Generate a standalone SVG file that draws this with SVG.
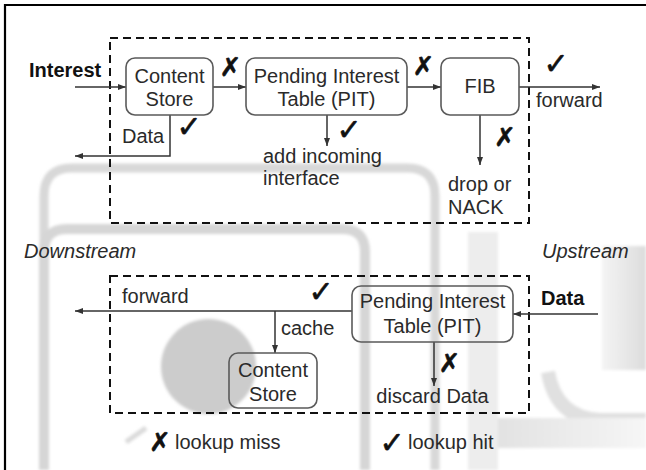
<svg xmlns="http://www.w3.org/2000/svg" width="646" height="470" viewBox="0 0 646 470">
  <defs>
    <marker id="arrow" markerUnits="userSpaceOnUse" markerWidth="9" markerHeight="7" refX="8" refY="3.5" orient="auto">
      <path d="M0,0.5 L8,3.5 L0,6.5 z" fill="#333"/>
    </marker>
    <filter id="soft" x="-10%" y="-10%" width="120%" height="120%">
      <feGaussianBlur stdDeviation="1.6"/>
    </filter>
    <linearGradient id="fadeL" x1="0" x2="1" y1="0" y2="0">
      <stop offset="0" stop-color="#f4f4f4"/>
      <stop offset="1" stop-color="#dcdcdc"/>
    </linearGradient>
    <linearGradient id="fadeR" x1="0" x2="1" y1="0" y2="0">
      <stop offset="0" stop-color="#e2e2e2"/>
      <stop offset="1" stop-color="#f6f6f6"/>
    </linearGradient>
  </defs>
  <style>
    text { font-family: "Liberation Sans", Arial, sans-serif; font-size: 20px; fill: #2a2a2a; }
    .bold { font-weight: bold; fill: #111; }
    .ital { font-style: italic; }
    .mid { text-anchor: middle; }
    .chk { font-family: "DejaVu Sans", sans-serif; font-size: 30px; font-weight: bold; fill: #111; stroke: #111; stroke-width: 0.6; text-anchor: middle; }
    .xm { font-family: "DejaVu Sans", sans-serif; font-size: 26px; font-weight: bold; fill: #111; stroke: #111; stroke-width: 0.6; text-anchor: middle; }
    .box { fill: none; stroke: #5a5a5a; stroke-width: 1.6; }
    .dash { fill: none; stroke: #111; stroke-width: 2; stroke-dasharray: 8 5; }
    .wire { fill: none; stroke: #333; stroke-width: 1.5; }
    .frame { stroke: #000; stroke-width: 2.2; fill: none; }
  </style>

  <rect width="646" height="470" fill="#fff"/>

  <!-- faint background artwork -->
  <g id="backdrop" filter="url(#soft)">
    <path d="M44,470 V196 Q44,168 72,168 H407 Q435,168 435,196 V470" fill="none" stroke="#d8d8d8" stroke-width="9"/>
    <path d="M44,470 V252 Q44,229 67,229 H342 Q365,229 365,252 V470" fill="none" stroke="#d6d6d6" stroke-width="10"/>
    <rect x="468" y="232" width="30" height="238" fill="#ededed"/>
    <rect x="602" y="246" width="44" height="124" fill="url(#fadeL)"/>
    <path d="M548,372 Q556,418 600,420 H646" fill="none" stroke="#e0e0e0" stroke-width="14"/>
    <rect x="498" y="418" width="148" height="30" fill="url(#fadeR)"/>
    <line x1="126" y1="442" x2="146" y2="428" stroke="#dadada" stroke-width="5"/>
    <circle cx="208.5" cy="366.5" r="47.5" fill="#cccccc"/>
  </g>

  <!-- picture frame edges -->
  <path class="frame" d="M5,470 V5 H646"/>

  <!-- processing stage outlines -->
  <g id="interest-stage">
    <rect class="dash" x="110" y="38" width="419" height="185"/>
  </g>
  <g id="data-stage">
    <rect class="dash" x="110" y="276" width="419" height="137"/>
  </g>

  <!-- connectors -->
  <g id="connectors">
    <line class="wire" x1="75" y1="87" x2="126" y2="87" marker-end="url(#arrow)"/>
    <line class="wire" x1="213" y1="87" x2="246" y2="87" marker-end="url(#arrow)"/>
    <line class="wire" x1="407" y1="87" x2="441" y2="87" marker-end="url(#arrow)"/>
    <line class="wire" x1="519" y1="87" x2="600" y2="87" marker-end="url(#arrow)"/>
    <path class="wire" d="M170,115 V156 H75" marker-end="url(#arrow)"/>
    <line class="wire" x1="327" y1="115" x2="327" y2="146" marker-end="url(#arrow)"/>
    <line class="wire" x1="480" y1="115" x2="480" y2="165" marker-end="url(#arrow)"/>
    <line class="wire" x1="352" y1="311" x2="75" y2="311" marker-end="url(#arrow)"/>
    <line class="wire" x1="275" y1="311" x2="275" y2="353" marker-end="url(#arrow)"/>
    <line class="wire" x1="598" y1="314" x2="513" y2="314" marker-end="url(#arrow)"/>
    <line class="wire" x1="434" y1="342" x2="434" y2="386" marker-end="url(#arrow)"/>
  </g>

  <!-- Interest path nodes -->
  <g id="cs-top">
    <rect class="box" x="126" y="58" width="87" height="57" rx="9"/>
    <text class="mid" x="169.5" y="83">Content</text>
    <text class="mid" x="169.5" y="106">Store</text>
  </g>
  <g id="pit-top">
    <rect class="box" x="246" y="58" width="161" height="57" rx="9"/>
    <text class="mid" x="326.5" y="83">Pending Interest</text>
    <text class="mid" x="326.5" y="106">Table (PIT)</text>
  </g>
  <g id="fib">
    <rect class="box" x="441" y="58" width="78" height="57" rx="9"/>
    <text class="mid" x="480" y="93">FIB</text>
  </g>

  <!-- Data path nodes -->
  <g id="pit-bottom">
    <rect class="box" x="352" y="286" width="161" height="56" rx="9"/>
    <text class="mid" x="432.5" y="308">Pending Interest</text>
    <text class="mid" x="432.5" y="333">Table (PIT)</text>
  </g>
  <g id="cs-bottom">
    <rect class="box" x="229" y="353" width="88" height="55" rx="9"/>
    <text class="mid" x="273" y="377">Content</text>
    <text class="mid" x="273" y="401">Store</text>
  </g>

  <!-- labels -->
  <g id="labels">
    <text class="bold" x="29" y="77">Interest</text>
    <text x="536" y="107">forward</text>
    <text x="122" y="143">Data</text>
    <text x="263" y="163">add incoming</text>
    <text x="263" y="185">interface</text>
    <text x="448" y="191">drop or</text>
    <text x="448" y="214">NACK</text>
    <text class="ital" x="24" y="258">Downstream</text>
    <text class="ital" x="542" y="258">Upstream</text>
    <text x="122" y="303">forward</text>
    <text x="281" y="335">cache</text>
    <text class="bold" x="541" y="305">Data</text>
    <text class="mid" x="432.5" y="403">discard Data</text>
    <text x="175" y="449">lookup miss</text>
    <text x="408" y="449">lookup hit</text>
  </g>

  <!-- lookup result marks -->
  <g id="marks">
    <text class="xm" x="230.5" y="76">✗</text>
    <text class="xm" x="423.5" y="75">✗</text>
    <text class="chk" x="556" y="74">✓</text>
    <text class="chk" x="189" y="137">✓</text>
    <text class="chk" x="349" y="140">✓</text>
    <text class="xm" x="505" y="146">✗</text>
    <text class="chk" x="321" y="302">✓</text>
    <text class="xm" x="449.5" y="372">✗</text>
    <text class="xm" x="160" y="451">✗</text>
    <text class="chk" x="392" y="453">✓</text>
  </g>
</svg>
